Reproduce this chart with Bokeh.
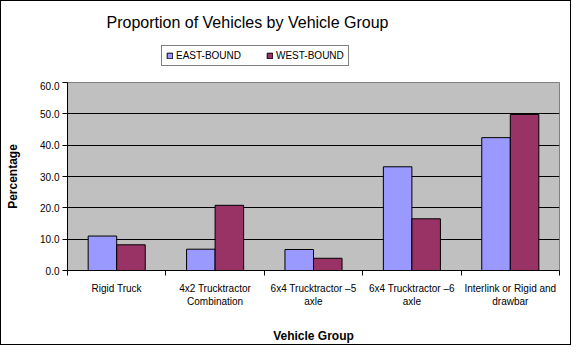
from bokeh.plotting import figure
from bokeh.models import (FixedTicker, Legend, LegendItem, Range1d, Label,
                          NumeralTickFormatter)
from bokeh.layouts import column
from bokeh.embed import file_html
from bokeh.resources import INLINE
import numpy as np

categories = ["Rigid Truck", "4x2 Trucktractor\nCombination",
              "6x4 Trucktractor \u20135\naxle", "6x4 Trucktractor \u20136\naxle",
              "Interlink or Rigid and\ndrawbar"]
east = [11.0, 6.8, 6.7, 33.1, 42.4]
west = [8.2, 20.8, 3.9, 16.5, 49.8]
y_ticks = [0, 10, 20, 30, 40, 50, 60]

FONT = "Liberation Sans"
EAST_C = "#9999FF"
WEST_C = "#993366"
W = 571
HEAD_H = 81

n = len(categories)
centers = np.arange(n) + 0.5
bw = 0.29

# ---- header (title + legend); its frame is aligned with the main frame ----
head = figure(width=W, height=HEAD_H, output_backend="svg", toolbar_location=None,
              x_range=Range1d(0, 1), y_range=Range1d(0, 1),
              min_border=0, min_border_left=0, min_border_right=0,
              min_border_top=0, min_border_bottom=0,
              styles={"border-top": "1px solid black",
                      "border-left": "1px solid black",
                      "border-right": "1px solid black",
                      "box-sizing": "border-box"})
head.axis.visible = False
head.grid.visible = False
head.outline_line_color = None
head.background_fill_color = "white"
head.border_fill_color = "white"

# legend proxies (kept outside the visible range)
h_e = head.vbar(x=[-5], top=[-5], width=0.1, fill_color=EAST_C, line_color="black")
h_w = head.vbar(x=[-5], top=[-5], width=0.1, fill_color=WEST_C, line_color="black")

head.add_layout(Label(x=180, y=HEAD_H - 21, x_units="screen", y_units="screen",
                      text="Proportion of Vehicles by Vehicle Group",
                      text_font=FONT, text_font_size="16px",
                      text_align="center", text_baseline="middle",
                      text_color="black"))

legend = Legend(items=[LegendItem(label="EAST-BOUND", renderers=[h_e]),
                       LegendItem(label="WEST-BOUND", renderers=[h_w])],
                orientation="horizontal", location=(94, HEAD_H - 65),
                label_text_font=FONT, label_text_font_size="10px",
                label_text_color="black",
                glyph_width=7, glyph_height=7, label_standoff=3,
                spacing=25, padding=4, margin=0,
                border_line_color="black", border_line_width=1,
                background_fill_color="white", background_fill_alpha=1,
                label_height=8)
head.add_layout(legend, "center")

# ---- main chart ----
p = figure(width=W, height=345 - HEAD_H, output_backend="svg", toolbar_location=None,
           x_range=Range1d(0, n), y_range=Range1d(0, 60),
           min_border_left=66, min_border_right=13, min_border_top=1,
           min_border_bottom=73,
           styles={"border-bottom": "1px solid black",
                   "border-left": "1px solid black",
                   "border-right": "1px solid black",
                   "box-sizing": "border-box"})

p.background_fill_color = "#C0C0C0"
p.border_fill_color = "white"
p.outline_line_color = "#808080"

p.vbar(x=centers - bw / 2, top=east, width=bw, fill_color=EAST_C,
       line_color="black", line_width=1)
p.vbar(x=centers + bw / 2, top=west, width=bw, fill_color=WEST_C,
       line_color="black", line_width=1)

p.xaxis.ticker = FixedTicker(ticks=list(centers), minor_ticks=list(range(n + 1)))
p.xaxis.major_label_overrides = {float(c): lab for c, lab in zip(centers, categories)}
p.xaxis.major_tick_out = 0
p.xaxis.major_tick_in = 0
p.xaxis.minor_tick_out = 5
p.xaxis.minor_tick_in = 0
p.xaxis.minor_tick_line_color = "black"
p.xaxis.axis_line_color = "black"
p.xaxis.major_label_text_font = FONT
p.xaxis.major_label_text_font_size = "10px"
p.xaxis.major_label_text_color = "black"
p.xaxis.major_label_standoff = 7
p.xaxis.axis_label = "Vehicle Group"
p.xaxis.axis_label_text_font = FONT
p.xaxis.axis_label_text_font_size = "12px"
p.xaxis.axis_label_text_font_style = "bold"
p.xaxis.axis_label_text_color = "black"
p.xaxis.axis_label_standoff = 19

p.yaxis.ticker = FixedTicker(ticks=y_ticks, minor_ticks=[])
p.yaxis.formatter = NumeralTickFormatter(format="0.0")
p.yaxis.major_tick_out = 5
p.yaxis.major_tick_in = 0
p.yaxis.major_tick_line_color = "black"
p.yaxis.axis_line_color = "black"
p.yaxis.major_label_text_font = FONT
p.yaxis.major_label_text_font_size = "10px"
p.yaxis.major_label_text_color = "black"
p.yaxis.major_label_standoff = 3
p.yaxis.axis_label = "Percentage"
p.yaxis.axis_label_text_font = FONT
p.yaxis.axis_label_text_font_size = "12px"
p.yaxis.axis_label_text_font_style = "bold"
p.yaxis.axis_label_text_color = "black"
p.yaxis.axis_label_standoff = 17

p.xgrid.grid_line_color = None
p.ygrid.grid_line_color = "black"
p.ygrid.grid_line_width = 1

layout = column(head, p, spacing=0)
open("out.html", "w").write(file_html(layout, INLINE))
